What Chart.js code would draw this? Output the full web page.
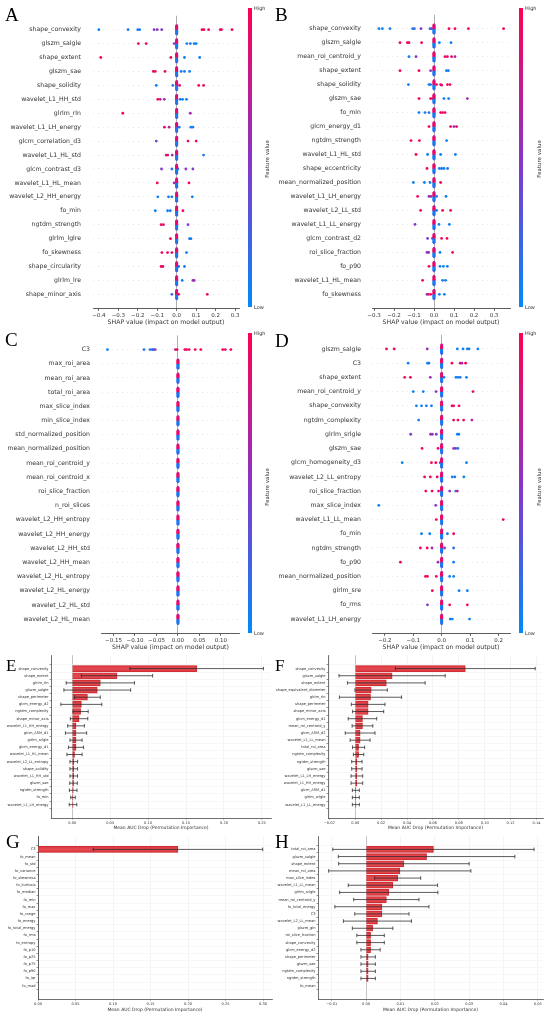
<!DOCTYPE html>
<html>
<head>
<meta charset="utf-8">
<script src="https://cdn.jsdelivr.net/npm/chart.js@4.4.0/dist/chart.umd.min.js"></script>
<style>
  body { margin: 0; background: #fff; width: 550px; height: 1016px; position: relative; overflow: hidden; font-family: "DejaVu Sans", sans-serif; }
  canvas { position: absolute; }
  .letter { position: absolute; font-family: "Liberation Serif", "DejaVu Serif", serif; line-height: 1; color: #000; }
  .cbar { position: absolute; width: 4px; background: linear-gradient(to top, rgb(0,138,251), rgb(138,52,198), rgb(255,0,82)); }
  .cbtext { position: absolute; font-size: 5px; color: #333; line-height: 1; }
  .cbtitle { position: absolute; font-size: 5.5px; color: #333; white-space: nowrap; transform: translate(-50%, -50%) rotate(-90deg); }
</style>
</head>
<body>
<canvas id="chartA" width="245" height="326" style="left:0;top:0;width:245px;height:326px"></canvas>
<canvas id="chartB" width="245" height="326" style="left:275px;top:0;width:245px;height:326px"></canvas>
<canvas id="chartC" width="245" height="331" style="left:0;top:320px;width:245px;height:331px"></canvas>
<canvas id="chartD" width="245" height="331" style="left:275px;top:320px;width:245px;height:331px"></canvas>
<canvas id="chartE" width="275" height="186" style="left:0;top:645px;width:275px;height:186px"></canvas>
<canvas id="chartF" width="275" height="186" style="left:275px;top:645px;width:275px;height:186px"></canvas>
<canvas id="chartG" width="275" height="187" style="left:0;top:826px;width:275px;height:187px"></canvas>
<canvas id="chartH" width="275" height="187" style="left:275px;top:826px;width:275px;height:187px"></canvas>

<div class="letter" style="left:5px;top:4.6px;font-size:19px">A</div>
<div class="letter" style="left:275px;top:4.6px;font-size:19px">B</div>
<div class="letter" style="left:5px;top:329.6px;font-size:19px">C</div>
<div class="letter" style="left:275px;top:330.6px;font-size:19px">D</div>
<div class="letter" style="left:6px;top:657px;font-size:17px">E</div>
<div class="letter" style="left:275px;top:657px;font-size:17px">F</div>
<div class="letter" style="left:6px;top:831.6px;font-size:19px">G</div>
<div class="letter" style="left:275px;top:831.6px;font-size:19px">H</div>

<div class="cbar" style="left:248px;top:8px;height:299px"></div>
<div class="cbtext" style="left:254px;top:6px">High</div>
<div class="cbtext" style="left:254px;top:305px">Low</div>
<div class="cbtitle" style="left:267px;top:159px">Feature value</div>

<div class="cbar" style="left:519px;top:8px;height:299px"></div>
<div class="cbtext" style="left:525px;top:6px">High</div>
<div class="cbtext" style="left:525px;top:305px">Low</div>
<div class="cbtitle" style="left:539px;top:159px">Feature value</div>

<div class="cbar" style="left:248px;top:333px;height:300px"></div>
<div class="cbtext" style="left:254px;top:331px">High</div>
<div class="cbtext" style="left:254px;top:631px">Low</div>
<div class="cbtitle" style="left:267px;top:487px">Feature value</div>

<div class="cbar" style="left:519px;top:333px;height:300px"></div>
<div class="cbtext" style="left:525px;top:331px">High</div>
<div class="cbtext" style="left:525px;top:631px">Low</div>
<div class="cbtitle" style="left:539px;top:487px">Feature value</div>

<script>
// ---------- SHAP beeswarm data: [shap value, feature value 0..1] ----------
const featuresA = ["shape_convexity", "glszm_salgle", "shape_extent", "glszm_sae", "shape_solidity",
  "wavelet_L1_HH_std", "glrlm_rln", "wavelet_L1_LH_energy", "glcm_correlation_d3", "wavelet_L1_HL_std",
  "glcm_contrast_d3", "wavelet_L1_HL_mean", "wavelet_L2_HH_energy", "fo_min", "ngtdm_strength",
  "glrlm_lglre", "fo_skewness", "shape_circularity", "glrlm_lre", "shape_minor_axis"];
const shapA = [
  [[-0.40, 0.05], [-0.25, 0.05], [-0.20, 0.1], [-0.19, 0.05], [-0.116, 0.45], [-0.10, 0.5], [-0.077, 0.45], [0.13, 0.95], [0.14, 0.95], [0.164, 0.95], [0.224, 0.95], [0.23, 0.9], [0.284, 0.95]],
  [[-0.197, 0.95], [-0.157, 0.95], [-0.013, 0.5], [0.052, 0.05], [0.07, 0.1], [0.09, 0.05], [0.10, 0.05]],
  [[-0.39, 0.95], [-0.03, 0.9], [0.04, 0.05], [0.118, 0.05]],
  [[-0.12, 0.95], [-0.11, 0.95], [-0.06, 0.9], [0.023, 0.1], [0.04, 0.05], [0.066, 0.05]],
  [[-0.105, 0.05], [-0.02, 0.1], [0.015, 0.9], [0.113, 0.95], [0.138, 0.95]],
  [[-0.097, 0.95], [-0.085, 0.7], [-0.064, 0.6], [0.018, 0.05], [0.03, 0.05], [0.05, 0.1]],
  [[-0.277, 0.95], [0.07, 0.6]],
  [[-0.063, 0.95], [-0.039, 0.7], [0.013, 0.05], [0.073, 0.05], [0.083, 0.1]],
  [[-0.105, 0.4], [0.058, 0.95], [0.10, 0.95]],
  [[-0.054, 0.95], [-0.046, 0.85], [-0.023, 0.6], [0.138, 0.1]],
  [[-0.078, 0.45], [-0.025, 0.1], [0.006, 0.1], [0.047, 0.5], [0.083, 0.45]],
  [[-0.10, 0.95], [-0.013, 0.6], [0.063, 0.95]],
  [[-0.097, 0.05], [-0.042, 0.1], [-0.025, 0.05], [0.08, 0.05]],
  [[-0.11, 0.05], [-0.047, 0.05], [-0.033, 0.1], [0.032, 0.95]],
  [[-0.08, 0.95], [-0.068, 0.9], [0.058, 0.45]],
  [[-0.032, 0.95], [0.066, 0.05], [0.073, 0.1]],
  [[-0.076, 0.95], [-0.047, 0.9], [-0.025, 0.95], [0.05, 0.1]],
  [[-0.08, 0.95], [-0.071, 0.9], [0.01, 0.05], [0.04, 0.05]],
  [[0.028, 0.05], [0.083, 0.6], [0.09, 0.55]],
  [[-0.025, 0.2], [0.01, 0.95], [0.157, 0.95]]
];
const ticksA = [-0.4, -0.3, -0.2, -0.1, 0, 0.1, 0.2, 0.3];

const featuresB = ["shape_convexity", "glszm_salgle", "mean_roi_centroid_y", "shape_extent", "shape_solidity",
  "glszm_sae", "fo_min", "glcm_energy_d1", "ngtdm_strength", "wavelet_L1_HL_std",
  "shape_eccentricity", "mean_normalized_position", "wavelet_L1_LH_energy", "wavelet_L2_LL_std", "wavelet_L1_LL_energy",
  "glcm_contrast_d2", "roi_slice_fraction", "fo_p90", "wavelet_L1_HL_mean", "fo_skewness"];
const shapB = [
  [[-0.275, 0.05], [-0.258, 0.05], [-0.22, 0.05], [-0.107, 0.1], [-0.098, 0.2], [-0.065, 0.5], [-0.02, 0.1], [-0.012, 0.4], [0.075, 0.95], [0.105, 0.95], [0.172, 0.95], [0.348, 0.95]],
  [[-0.17, 0.95], [-0.133, 0.95], [-0.125, 0.9], [-0.062, 0.95], [0.027, 0.05], [0.085, 0.05]],
  [[-0.125, 0.05], [-0.09, 0.5], [0.055, 0.95], [0.067, 0.9], [0.088, 0.95], [0.105, 0.6]],
  [[-0.17, 0.95], [-0.075, 0.95], [-0.017, 0.5], [0.062, 0.05], [0.072, 0.05]],
  [[-0.128, 0.05], [-0.025, 0.1], [-0.017, 0.05], [0.013, 0.95], [0.033, 0.95], [0.038, 0.9], [0.067, 0.95], [0.08, 0.9]],
  [[-0.075, 0.95], [-0.017, 0.95], [-0.008, 0.9], [0.05, 0.05], [0.073, 0.05], [0.167, 0.6]],
  [[-0.075, 0.05], [-0.045, 0.05], [-0.025, 0.1], [0.033, 0.95], [0.043, 0.95], [0.055, 0.9]],
  [[-0.025, 0.95], [0.083, 0.95], [0.1, 0.6], [0.113, 0.95]],
  [[-0.115, 0.95], [-0.073, 0.95], [0.063, 0.05]],
  [[-0.09, 0.95], [-0.032, 0.05], [0.033, 0.05], [0.107, 0.05]],
  [[-0.035, 0.95], [0.027, 0.05], [0.038, 0.1], [0.05, 0.05], [0.068, 0.1]],
  [[-0.103, 0.05], [-0.048, 0.05], [-0.02, 0.05], [0.033, 0.95]],
  [[-0.082, 0.95], [-0.025, 0.5], [-0.015, 0.6], [0.013, 0.05], [0.06, 0.05]],
  [[-0.067, 0.95], [0.013, 0.1], [0.043, 0.95], [0.083, 0.95]],
  [[-0.095, 0.5], [0.025, 0.05], [0.077, 0.05]],
  [[-0.032, 0.45], [-0.008, 0.1], [0.038, 0.95], [0.065, 0.95]],
  [[-0.035, 0.5], [-0.027, 0.6], [0.03, 0.05], [0.093, 0.9]],
  [[-0.025, 0.95], [0.03, 0.05], [0.047, 0.05], [0.067, 0.05]],
  [[-0.057, 0.95], [0.043, 0.05], [0.058, 0.05]],
  [[-0.035, 0.5], [-0.028, 0.9], [-0.017, 0.95], [0.027, 0.05], [0.052, 0.05]]
];
const ticksB = [-0.3, -0.2, -0.1, 0, 0.1, 0.2, 0.3];

const featuresC = ["C3", "max_roi_area", "mean_roi_area", "total_roi_area", "max_slice_index",
  "min_slice_index", "std_normalized_position", "mean_normalized_position", "mean_roi_centroid_y", "mean_roi_centroid_x",
  "roi_slice_fraction", "n_roi_slices", "wavelet_L2_HH_entropy", "wavelet_L2_HH_energy", "wavelet_L2_HH_std",
  "wavelet_L2_HH_mean", "wavelet_L2_HL_entropy", "wavelet_L2_HL_energy", "wavelet_L2_HL_std", "wavelet_L2_HL_mean"];
const shapC = [
  [[-0.164, 0.05], [-0.079, 0.1], [-0.065, 0.1], [-0.06, 0.2], [-0.057, 0.3], [-0.053, 0.4], [-0.006, 0.8], [-0.002, 0.9], [0.016, 0.95], [0.02, 0.9], [0.026, 0.95], [0.04, 0.95], [0.053, 0.95], [0.104, 0.95], [0.11, 0.9], [0.123, 0.95]],
  [], [], [], [], [], [], [], [], [], [], [], [], [], [], [], [], [], [], []
];
const ticksC = [-0.15, -0.10, -0.05, 0, 0.05, 0.10];

const featuresD = ["glszm_salgle", "C3", "shape_extent", "mean_roi_centroid_y", "shape_convexity",
  "ngtdm_complexity", "glrlm_srlgle", "glszm_sae", "glcm_homogeneity_d3", "wavelet_L2_LL_entropy",
  "roi_slice_fraction", "max_slice_index", "wavelet_L1_LL_mean", "fo_min", "ngtdm_strength",
  "fo_p90", "mean_normalized_position", "glrlm_sre", "fo_rms", "wavelet_L1_LH_energy"];
const shapD = [
  [[-0.194, 0.95], [-0.167, 0.95], [-0.051, 0.55], [0.055, 0.05], [0.075, 0.05], [0.09, 0.05], [0.096, 0.1], [0.127, 0.05]],
  [[-0.118, 0.05], [-0.05, 0.05], [-0.045, 0.1], [0.036, 0.95], [0.065, 0.95], [0.071, 0.6], [0.084, 0.95]],
  [[-0.13, 0.95], [-0.11, 0.95], [-0.04, 0.6], [0.008, 0.05], [0.05, 0.05], [0.057, 0.05], [0.065, 0.1], [0.087, 0.05]],
  [[-0.1, 0.05], [-0.065, 0.05], [-0.02, 0.5], [0.11, 0.9]],
  [[-0.089, 0.05], [-0.071, 0.05], [-0.054, 0.05], [-0.036, 0.05], [0.036, 0.95], [0.042, 0.9], [0.061, 0.95]],
  [[-0.081, 0.1], [0.042, 0.95], [0.057, 0.95], [0.077, 0.95], [0.106, 0.7]],
  [[-0.109, 0.45], [-0.039, 0.6], [-0.033, 0.5], [-0.019, 0.45], [0.055, 0.05], [0.06, 0.05]],
  [[-0.069, 0.95], [-0.013, 0.95], [0.042, 0.55], [0.049, 0.5], [0.057, 0.1]],
  [[-0.139, 0.05], [-0.036, 0.95], [-0.021, 0.95], [-0.005, 0.6], [0.087, 0.05]],
  [[-0.06, 0.95], [-0.04, 0.95], [-0.016, 0.95], [0.037, 0.1], [0.046, 0.1], [0.078, 0.05]],
  [[-0.056, 0.95], [-0.034, 0.95], [-0.011, 0.95], [0.028, 0.5], [0.049, 0.05], [0.055, 0.7]],
  [[-0.221, 0.05], [-0.021, 0.5]],
  [[-0.019, 0.95], [0.216, 0.95]],
  [[-0.071, 0.05], [-0.042, 0.05], [0.02, 0.05], [0.042, 0.95]],
  [[-0.075, 0.95], [-0.051, 0.95], [-0.034, 0.6], [0.01, 0.5], [0.042, 0.2]],
  [[-0.145, 0.95], [-0.013, 0.6], [0.042, 0.05]],
  [[-0.057, 0.95], [-0.05, 0.95], [-0.019, 0.95], [0.028, 0.05], [0.042, 0.05]],
  [[-0.033, 0.95], [0.061, 0.05], [0.09, 0.05]],
  [[-0.05, 0.5], [0.028, 0.95], [0.09, 0.95]],
  [[0.03, 0.05], [0.037, 0.05], [0.098, 0.05]]
];
const ticksD = [-0.2, -0.1, 0, 0.1, 0.2];

// feature values of the samples piled up at SHAP = 0 in every row
const stripValues = [0.95, 0.05, 0.9, 0.1, 0.95, 0.05, 0.85, 0.15, 0.95, 0.05, 0.9, 0.1, 0.95, 0.05, 0.8, 0.2];

// ---------- permutation importance data ----------
const featuresE = ["shape_convexity", "shape_extent", "glrlm_rln", "glszm_salgle", "shape_perimeter",
  "glcm_energy_d2", "ngtdm_complexity", "shape_minor_axis", "wavelet_L1_HH_energy", "glcm_ASM_d1",
  "glrlm_srlgle", "glcm_energy_d1", "wavelet_L1_HL_mean", "wavelet_L2_LL_entropy", "shape_solidity",
  "wavelet_L1_HH_std", "glszm_sae", "ngtdm_strength", "fo_min", "wavelet_L1_LH_energy"];
const meansE = [0.164, 0.059, 0.037, 0.033, 0.020, 0.012, 0.011, 0.009, 0.005, 0.005,
  0.005, 0.005, 0.003, 0.002, 0.002, 0.002, 0.0017, 0.0013, 0.001, 0.001];
const sdsE = [0.088, 0.047, 0.045, 0.044, 0.017, 0.027, 0.010, 0.0115, 0.011, 0.014,
  0.008, 0.010, 0.010, 0.005, 0.005, 0.005, 0.005, 0.005, 0.003, 0.005];
const ticksE = [0, 0.05, 0.10, 0.15, 0.20, 0.25];

const featuresF = ["shape_convexity", "glszm_salgle", "shape_extent", "shape_equivalent_diameter", "glrlm_rln",
  "shape_perimeter", "shape_minor_axis", "glcm_energy_d1", "mean_roi_centroid_y", "glcm_ASM_d2",
  "wavelet_L1_LL_mean", "total_roi_area", "ngtdm_complexity", "ngtdm_strength", "glszm_sae",
  "wavelet_L1_LH_energy", "wavelet_L1_HH_energy", "glcm_ASM_d1", "glrlm_srlgle", "wavelet_L1_LL_energy"];
const meansF = [0.085, 0.0285, 0.024, 0.0123, 0.0118, 0.010, 0.010, 0.0056, 0.0056, 0.0038,
  0.0038, 0.0026, 0.0026, 0.0013, 0.0013, 0.0013, 0.0013, 0.0005, 0.0005, 0.0005];
const sdsF = [0.054, 0.041, 0.030, 0.0125, 0.024, 0.013, 0.012, 0.011, 0.008, 0.0115,
  0.0077, 0.0047, 0.004, 0.004, 0.004, 0.0045, 0.0045, 0.0027, 0.0027, 0.0027];
const ticksF = [-0.02, 0, 0.02, 0.04, 0.06, 0.08, 0.10, 0.12, 0.14];

const featuresG = ["C3", "fo_mean", "fo_std", "fo_variance", "fo_skewness",
  "fo_kurtosis", "fo_median", "fo_min", "fo_max", "fo_range",
  "fo_energy", "fo_total_energy", "fo_rms", "fo_entropy", "fo_p10",
  "fo_p25", "fo_p75", "fo_p90", "fo_iqr", "fo_mad"];
const meansG = [0.1866, 0, 0, 0, 0, 0, 0, 0, 0, 0, 0, 0, 0, 0, 0, 0, 0, 0, 0, 0];
const sdsG = [0.113, 0, 0, 0, 0, 0, 0, 0, 0, 0, 0, 0, 0, 0, 0, 0, 0, 0, 0, 0];
const ticksG = [0, 0.05, 0.10, 0.15, 0.20, 0.25, 0.30];

const featuresH = ["total_roi_area", "glszm_salgle", "shape_extent", "mean_roi_area", "max_slice_index",
  "wavelet_L1_LL_mean", "glrlm_srlgle", "mean_roi_centroid_y", "fo_total_energy", "C3",
  "wavelet_L2_LL_mean", "glszm_gln", "roi_slice_fraction", "shape_convexity", "glcm_energy_d2",
  "shape_perimeter", "glszm_sae", "ngtdm_complexity", "ngtdm_strength", "fo_mean"];
const meansH = [0.0196, 0.0176, 0.011, 0.0098, 0.0092, 0.0078, 0.0066, 0.0059, 0.0046, 0.0046,
  0.0033, 0.0019, 0.0013, 0.0013, 0.0013, 0.0006, 0.0006, 0.0006, 0.0006, 0];
const sdsH = [0.0293, 0.0257, 0.019, 0.0207, 0.0067, 0.013, 0.0143, 0.0095, 0.0137, 0.0079,
  0.0099, 0.0059, 0.004, 0.004, 0.0028, 0.0021, 0.0021, 0.0021, 0.0021, 0];
const ticksH = [-0.01, 0, 0.01, 0.02, 0.03, 0.04, 0.05];

// ---------- helpers ----------
const FONT = "'DejaVu Sans', sans-serif";
const LOW = [0, 138, 251], MID = [138, 52, 198], HIGH = [255, 0, 82];

function shapColor(t) {
  const [a, b, u] = t < 0.5 ? [LOW, MID, t * 2] : [MID, HIGH, (t - 0.5) * 2];
  return "rgb(" + a.map((c, k) => Math.round(c + (b[k] - c) * u)).join(",") + ")";
}

function fmt(v, d) {
  const s = Math.abs(v).toFixed(d);
  return (v < -1e-9 ? "\u2212" : "") + s;
}

// stack points that fall into the same x bin, like shap's beeswarm
function swarm(points, xmin, xmax) {
  const binW = (xmax - xmin) / 100;
  const counts = {};
  const out = points.map(([x, fv]) => {
    const b = Math.round((x - xmin) / binW);
    const k = counts[b] || 0;
    counts[b] = k + 1;
    const layer = Math.ceil(k / 2) * (k % 2 ? 1 : -1);
    return { x, fv, layer };
  });
  const maxL = Math.max(0, ...out.map((p) => Math.abs(p.layer)));
  const s = (0.9 * 0.4) / (maxL + 1);
  return out.map((p) => ({ x: p.x, off: p.layer * s, fv: p.fv }));
}

function beeswarm(id, names, rows, ticks, xmin, xmax, lay, dec, strip) {
  const pts = [];
  const cols = [];
  rows.forEach((row, i) => {
    let all = row.slice();
    if (strip[i]) all = all.concat(stripValues.map((fv) => [0, fv]));
    swarm(all, xmin, xmax).forEach((p) => {
      pts.push({ x: p.x, y: i + p.off });
      cols.push(shapColor(p.fv));
    });
  });

  new Chart(document.getElementById(id), {
    type: "scatter",
    data: {
      datasets: [{ data: pts, pointBackgroundColor: cols, pointBorderWidth: 0, pointRadius: 1.4 }],
    },
    options: {
      responsive: false,
      animation: false,
      events: [],
      layout: { padding: { left: 0, top: lay.top, right: lay.right, bottom: 0 } },
      plugins: { legend: { display: false }, tooltip: { enabled: false } },
      scales: {
        x: {
          type: "linear",
          min: xmin,
          max: xmax,
          afterBuildTicks: (s) => { s.ticks = ticks.map((v) => ({ value: v })); },
          afterFit: (s) => { s.height = lay.xh; },
          grid: {
            color: (c) => (c.tick && Math.abs(c.tick.value) < 1e-9 ? "#999999" : "rgba(0,0,0,0)"),
            tickColor: "#333",
            tickLength: 2.5,
            lineWidth: 0.8,
          },
          border: { display: true, color: "#333", width: 0.8 },
          ticks: {
            font: { size: 5.5, family: FONT },
            color: "#333",
            padding: 1,
            maxRotation: 0,
            autoSkip: false,
            callback: (v) => fmt(v, dec),
          },
          title: {
            display: true,
            text: "SHAP value (impact on model output)",
            font: { size: 6.2, family: FONT },
            color: "#333",
            padding: 0,
          },
        },
        y: {
          type: "linear",
          min: -1,
          max: 20,
          reverse: true,
          afterBuildTicks: (s) => { s.ticks = names.map((_, i) => ({ value: i })); },
          afterFit: (s) => { s.width = lay.yw; },
          grid: { color: "#cccccc", lineWidth: 0.5, drawTicks: false, borderDash: [1, 4] },
          border: { display: false, dash: [1, 4] },
          ticks: {
            font: { size: 6.2, family: FONT },
            color: "#333",
            padding: lay.lpad,
            autoSkip: false,
            callback: (v) => names[v],
          },
        },
      },
    },
  });
}

// error bars drawn through the chart's own scales
const errorBarPlugin = {
  id: "errorBars",
  afterDatasetsDraw(chart) {
    const { ctx } = chart;
    const xs = chart.scales.x;
    const ys = chart.scales.y;
    const ds = chart.data.datasets[0];
    ctx.save();
    ctx.strokeStyle = "rgba(40,40,40,0.85)";
    ctx.lineWidth = 0.9;
    ds.data.forEach((p, i) => {
      const sd = ds.errs[i];
      if (!sd) return;
      const yp = ys.getPixelForValue(p.y);
      const x1 = xs.getPixelForValue(p.x - sd);
      const x2 = xs.getPixelForValue(p.x + sd);
      ctx.beginPath();
      ctx.moveTo(x1, yp);
      ctx.lineTo(x2, yp);
      ctx.moveTo(x1, yp - 1.8);
      ctx.lineTo(x1, yp + 1.8);
      ctx.moveTo(x2, yp - 1.8);
      ctx.lineTo(x2, yp + 1.8);
      ctx.stroke();
    });
    ctx.restore();
  },
};

function importance(id, names, means, sds, ticks, xmin, xmax, lay) {
  new Chart(document.getElementById(id), {
    type: "bar",
    data: {
      datasets: [{
        data: means.map((m, i) => ({ x: m, y: i })),
        errs: sds,
        backgroundColor: "rgba(220,40,48,0.86)",
        borderColor: "rgba(195,30,35,0.9)",
        borderWidth: 0.5,
        barThickness: 6,
      }],
    },
    options: {
      indexAxis: "y",
      responsive: false,
      animation: false,
      events: [],
      layout: { padding: { left: 0, top: lay.top, right: lay.right, bottom: 0 } },
      plugins: { legend: { display: false }, tooltip: { enabled: false } },
      scales: {
        x: {
          type: "linear",
          min: xmin,
          max: xmax,
          afterBuildTicks: (s) => { s.ticks = ticks.map((v) => ({ value: v })); },
          afterFit: (s) => { s.height = lay.xh; },
          grid: {
            color: (c) => (c.tick && Math.abs(c.tick.value) < 1e-9 ? "#9a9a9a" : "#ececec"),
            tickColor: "#333",
            tickLength: 1.5,
            lineWidth: 0.6,
          },
          border: { display: true, color: "#333", width: 0.7 },
          ticks: {
            font: { size: 3.6, family: FONT },
            color: "#333",
            padding: 1,
            maxRotation: 0,
            autoSkip: false,
            callback: (v) => fmt(v, 2),
          },
          title: {
            display: true,
            text: "Mean AUC Drop (Permutation Importance)",
            font: { size: 4.5, family: FONT },
            color: "#333",
            padding: 0,
          },
        },
        y: {
          type: "linear",
          min: -1.3,
          max: 20.3,
          reverse: true,
          afterBuildTicks: (s) => { s.ticks = names.map((_, i) => ({ value: i })); },
          afterFit: (s) => { s.width = lay.yw; },
          grid: { color: "#efefef", lineWidth: 0.5, tickColor: "#333", tickLength: 1.5 },
          border: { display: true, color: "#333", width: 0.7 },
          ticks: {
            font: { size: 3.6, family: FONT },
            color: "#333",
            padding: 1,
            autoSkip: false,
            callback: (v) => names[v],
          },
        },
      },
    },
    plugins: [errorBarPlugin],
  });
}

document.addEventListener("DOMContentLoaded", function () {
  const allStrip = featuresA.map(() => true);

  beeswarm("chartA", featuresA, shapA, ticksA, -0.43, 0.32,
    { top: 8.7, right: 6, yw: 93, xh: 17.7, lpad: 12 }, 1, allStrip);
  beeswarm("chartB", featuresB, shapB, ticksB, -0.31, 0.38,
    { top: 8.7, right: 10, yw: 97, xh: 17.7, lpad: 11 }, 1, allStrip);
  beeswarm("chartC", featuresC, shapC, ticksC, -0.1774, 0.1426,
    { top: 13.7, right: 5.7, yw: 101.7, xh: 17.7, lpad: 11.7 }, 2, featuresC.map((n) => n !== "C3"));
  beeswarm("chartD", featuresD, shapD, ticksD, -0.245, 0.24,
    { top: 13.7, right: 10, yw: 97, xh: 17.7, lpad: 11 }, 1, allStrip);

  importance("chartE", featuresE, meansE, sdsE, ticksE, -0.028, 0.262,
    { top: 10.2, right: 4, yw: 51, xh: 13 });
  importance("chartF", featuresF, meansF, sdsF, ticksF, -0.021, 0.145,
    { top: 10.2, right: 7, yw: 53, xh: 13 });
  importance("chartG", featuresG, meansG, sdsG, ticksG, 0, 0.312,
    { top: 10, right: 3, yw: 38, xh: 14 });
  importance("chartH", featuresH, meansH, sdsH, ticksH, -0.014, 0.0515,
    { top: 10, right: 7, yw: 43, xh: 14 });
});
</script>
</body>
</html>
